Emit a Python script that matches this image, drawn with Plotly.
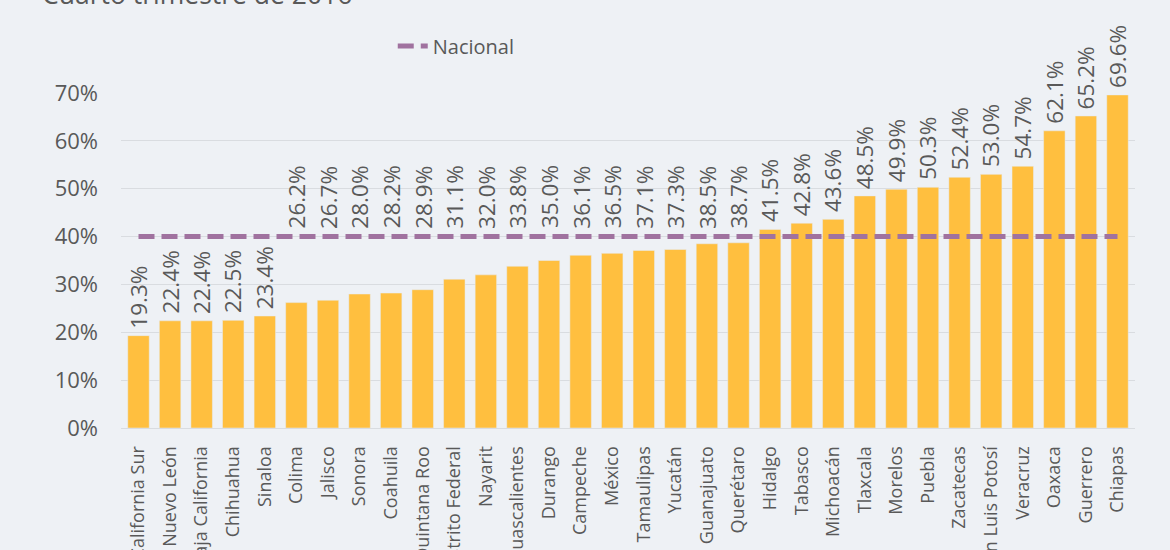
import plotly.graph_objects as go

estados = ["Baja California Sur", "Nuevo León", "Baja California", "Chihuahua", "Sinaloa",
           "Colima", "Jalisco", "Sonora", "Coahuila", "Quintana Roo", "Distrito Federal",
           "Nayarit", "Aguascalientes", "Durango", "Campeche", "México", "Tamaulipas",
           "Yucatán", "Guanajuato", "Querétaro", "Hidalgo", "Tabasco", "Michoacán",
           "Tlaxcala", "Morelos", "Puebla", "Zacatecas", "San Luis Potosí", "Veracruz",
           "Oaxaca", "Guerrero", "Chiapas"]
pobreza = [0.193, 0.224, 0.224, 0.225, 0.234, 0.262, 0.267, 0.280, 0.282, 0.289, 0.311,
           0.320, 0.338, 0.350, 0.361, 0.365, 0.371, 0.373, 0.385, 0.387, 0.415, 0.428,
           0.436, 0.485, 0.499, 0.503, 0.524, 0.530, 0.547, 0.621, 0.652, 0.696]
nacional = 0.40
titulo = "Cuarto trimestre de 2016"

BAR = "#FFBF3F"
LINE = "#A0729F"
TXT = "#595959"
BG = "#EEF1F5"
FONT = "Open Sans"

fig = go.Figure()
fig.add_trace(go.Bar(x=estados, y=pobreza, marker_color=BAR, showlegend=False,
                     hoverinfo="skip"))
fig.add_trace(go.Scatter(x=[estados[0], estados[-1]], y=[nacional, nacional],
                         mode="lines", name="Nacional",
                         line=dict(color=LINE, width=5, dash="16px,7px")))

label_h = 0.15
for e, v in zip(estados, pobreza):
    if v < nacional and v + label_h > nacional:
        base, shift = nacional, 6
    else:
        base, shift = v, 5
    fig.add_annotation(x=e, y=base, text=f"{v*100:.1f}%", textangle=-90,
                       showarrow=False, yanchor="bottom", xanchor="center",
                       yshift=shift, font=dict(family=FONT, size=22.5, color=TXT))

fig.add_annotation(xref="paper", yref="paper", x=-0.08, y=1.235, xanchor="left",
                   yanchor="bottom", text=titulo, showarrow=False,
                   font=dict(family=FONT, size=26.5, color=TXT))

fig.update_layout(
    width=1170, height=550,
    margin=dict(l=121, r=35, t=93, b=122, autoexpand=False),
    paper_bgcolor=BG, plot_bgcolor=BG,
    bargap=0.32,
    font=dict(family=FONT, color=TXT),
    legend=dict(orientation="h", x=0.268, y=1.14, xanchor="left", yanchor="middle",
                font=dict(family=FONT, size=20, color=TXT), bgcolor="rgba(0,0,0,0)",
                itemwidth=30),
    showlegend=True,
)
fig.update_yaxes(range=[0, 0.7], tickvals=[0, 0.1, 0.2, 0.3, 0.4, 0.5, 0.6, 0.7],
                 tickformat=".0%", gridcolor="#D9DCE0", gridwidth=1, zeroline=False,
                 showline=False, tickfont=dict(family=FONT, size=22, color=TXT),
                 ticklabelstandoff=22, automargin=False)
fig.update_xaxes(tickangle=-90, tickfont=dict(family=FONT, size=18, color=TXT),
                 showline=True, linecolor="#D9DCE0", linewidth=1,
                 ticklabelstandoff=10, automargin=False, showgrid=False)

fig.write_html("out.html", config={"displayModeBar": False},
               post_script="document.body.style.margin='0';")
